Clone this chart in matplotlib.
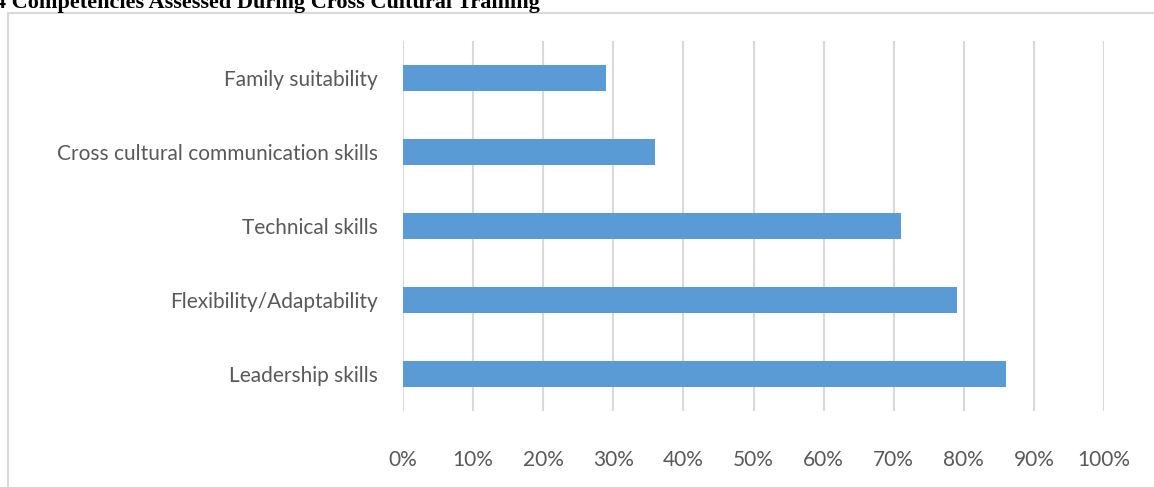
import matplotlib.pyplot as plt
from matplotlib.patches import Rectangle

categories = ['Leadership skills', 'Flexibility/Adaptability', 'Technical skills',
              'Cross cultural communication skills', 'Family suitability']
values = [86, 79, 71, 36, 29]
ticks = [0, 10, 20, 30, 40, 50, 60, 70, 80, 90, 100]
tick_labels = [f'{t}%' for t in ticks]

W, H = 1154, 487
fig = plt.figure(figsize=(W / 100, H / 100), dpi=100)
ax = fig.add_axes([403 / W, 1 - 411 / H, (1104 - 403) / W, (411 - 41) / H])

ax.barh(range(len(categories)), values, height=0.35, color='#5b9bd5', zorder=3)

ax.set_xlim(0, 100)
ax.set_ylim(-0.5, len(categories) - 0.5)
ax.set_xticks(ticks)
ax.set_xticklabels(tick_labels)
ax.set_yticks(range(len(categories)))
ax.set_yticklabels(categories)
ax.grid(axis='x', color='#d9d9d9', linewidth=1.5, zorder=0)
for s in ax.spines.values():
    s.set_visible(False)
ax.tick_params(length=0, labelsize=15, labelcolor='#595959')
ax.tick_params(axis='x', pad=28)
ax.tick_params(axis='y', pad=18)
for lab in ax.get_xticklabels() + ax.get_yticklabels():
    lab.set_fontfamily('Lato')

# outer chart frame (cut off on the right and bottom)
fig.patches.append(Rectangle((7.5 / W, -0.1), 1.2, 1 - 12.5 / H + 0.1,
                             transform=fig.transFigure, fill=False,
                             edgecolor='#d9d9d9', linewidth=1.5))

fig.text(-5 / W, 1 - 8 / H, '4 Competencies Assessed During Cross Cultural Training',
         family='Liberation Serif', weight='bold', fontsize=16, va='baseline', ha='left')

fig.savefig('out.png', dpi=100)
